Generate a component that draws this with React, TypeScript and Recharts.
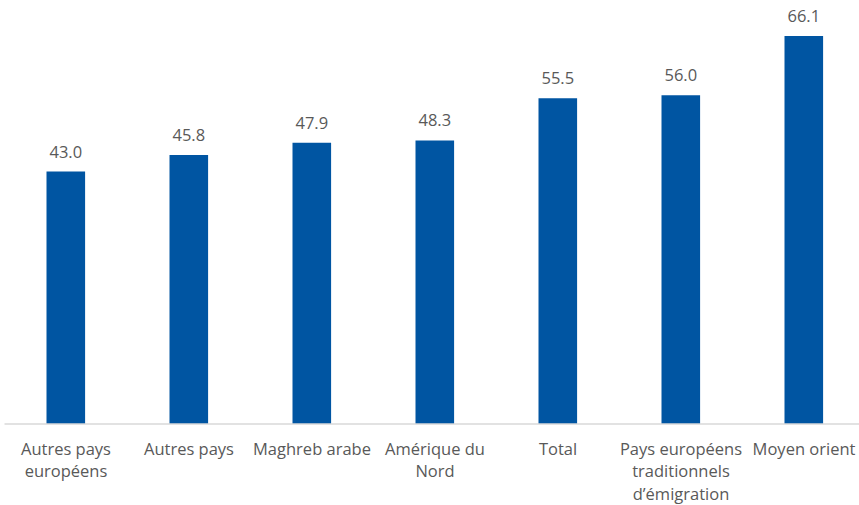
import { BarChart, Bar, XAxis, YAxis, LabelList } from 'recharts';

const categories = [
    'Autres pays\neuropéens',
    'Autres pays',
    'Maghreb arabe',
    'Amérique du\nNord',
    'Total',
    'Pays européens\ntraditionnels\nd’émigration',
    'Moyen orient',
];
const values = [43.0, 45.8, 47.9, 48.3, 55.5, 56.0, 66.1];

const data = categories.map((name, i) => ({ name, value: values[i] }));

const FONT = '"Open Sans", sans-serif';
const TEXT = '#595959';

// eslint-disable-next-line @typescript-eslint/no-explicit-any
function WrappedTick({ x, y, payload }: any) {
    const lines = String(payload.value).split('\n');
    return (
        <text x={x} y={y} textAnchor="middle" fill={TEXT} fontSize={16.5} fontFamily={FONT}>
            {lines.map((line, i) => (
                <tspan key={i} x={x} dy={i === 0 ? 22.5 : 22.8}>
                    {line}
                </tspan>
            ))}
        </text>
    );
}

export default function App() {
    return (
        <div style={{ position: 'absolute', left: 0, top: 0, width: 859, height: 505, overflow: 'hidden', background: '#fff' }}>
            <BarChart
                width={870}
                height={505}
                data={data}
                margin={{ top: 13, right: 4.5, left: 4.5, bottom: 0 }}
            >
                <XAxis
                    dataKey="name"
                    interval={0}
                    height={81}
                    tickLine={false}
                    axisLine={{ stroke: '#D9D9D9', strokeWidth: 1.5 }}
                    tick={<WrappedTick />}
                />
                <YAxis hide domain={[0, 70]} />
                <Bar dataKey="value" fill="#0055A2" barSize={38.6} isAnimationActive={false}>
                    <LabelList
                        dataKey="value"
                        position="top"
                        offset={14}
                        formatter={(v: number) => v.toFixed(1)}
                        fill={TEXT}
                        fontSize={16.5}
                        fontFamily={FONT}
                    />
                </Bar>
            </BarChart>
        </div>
    );
}
